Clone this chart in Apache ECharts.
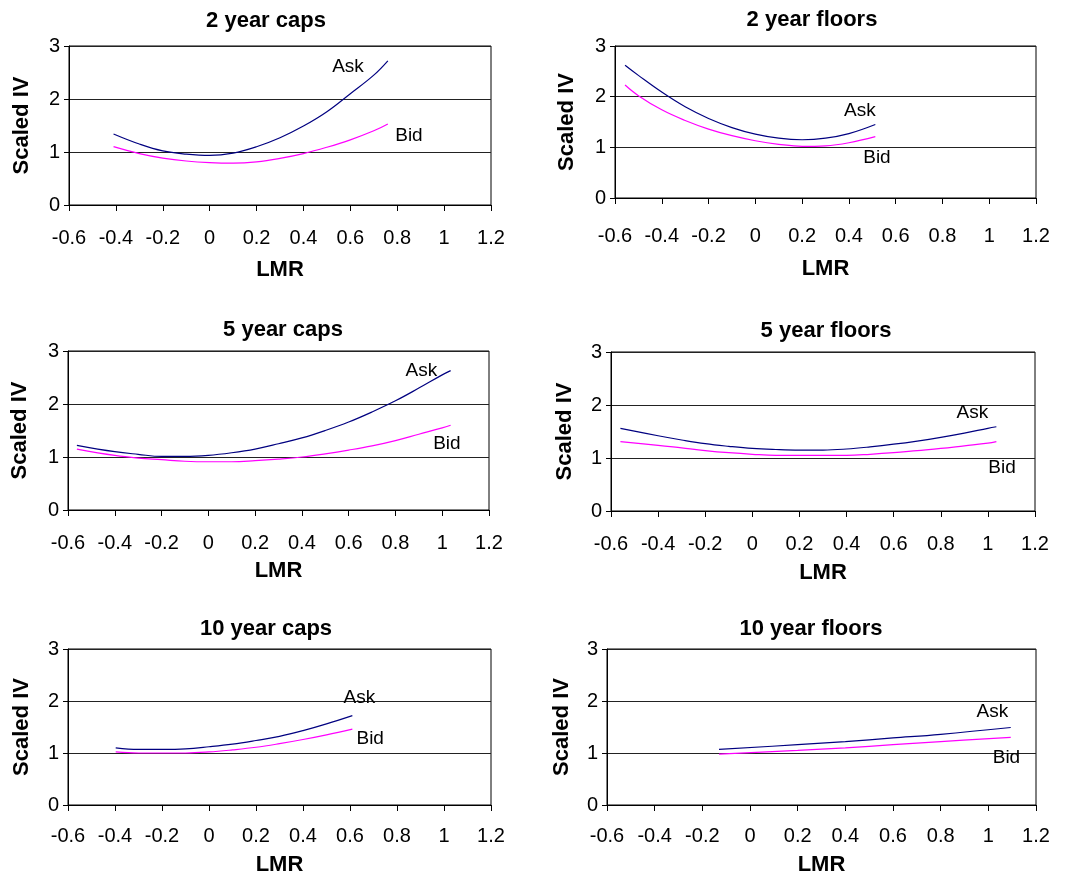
<!DOCTYPE html>
<html>
<head>
<meta charset="utf-8">
<script src="https://cdn.jsdelivr.net/npm/echarts@6/dist/echarts.min.js"></script>
<style>
html,body{margin:0;padding:0;background:#fff;}
#main{width:1067px;height:877px;}
</style>
</head>
<body>
<div id="main"></div>
<script>
// tick labels
var xTicks = [-0.6, -0.4, -0.2, 0, 0.2, 0.4, 0.6, 0.8, 1, 1.2];
var yTicks = [0, 1, 2, 3];

// 2 year caps
var lmrCap2 = [-0.41, -0.3, -0.2, -0.1, 0, 0.1, 0.2, 0.3, 0.4, 0.5, 0.6, 0.7, 0.76];
var askCap2 = [1.34, 1.15, 1.02, 0.96, 0.935, 0.98, 1.10, 1.27, 1.49, 1.76, 2.10, 2.45, 2.72];
var bidCap2 = [1.10, 0.97, 0.885, 0.83, 0.80, 0.79, 0.815, 0.88, 0.97, 1.09, 1.23, 1.40, 1.53];

// 2 year floors
var lmrFloor2 = [-0.557, -0.5, -0.4, -0.3, -0.2, -0.1, 0, 0.1, 0.2, 0.3, 0.4, 0.513];
var askFloor2 = [2.62, 2.42, 2.09, 1.80, 1.57, 1.39, 1.26, 1.18, 1.15, 1.18, 1.27, 1.45];
var bidFloor2 = [2.23, 2.02, 1.74, 1.53, 1.36, 1.23, 1.13, 1.06, 1.02, 1.03, 1.09, 1.21];

// 5 year caps
var lmrCap5 = [-0.562, -0.4, -0.3, -0.2, -0.1, 0, 0.1, 0.2, 0.3, 0.4, 0.5, 0.6, 0.7, 0.8, 0.9, 1.0, 1.036];
var askCap5 = [1.22, 1.10, 1.05, 1.01, 1.01, 1.03, 1.08, 1.15, 1.25, 1.36, 1.50, 1.66, 1.85, 2.06, 2.30, 2.55, 2.63];
var bidCap5 = [1.15, 1.03, 0.98, 0.95, 0.92, 0.91, 0.91, 0.93, 0.96, 1.00, 1.06, 1.13, 1.21, 1.31, 1.43, 1.55, 1.60];

// 5 year floors
var lmrFloor5 = [-0.56, -0.4, -0.3, -0.2, -0.1, 0, 0.1, 0.2, 0.3, 0.4, 0.5, 0.6, 0.7, 0.8, 0.9, 1.0, 1.036];
var askFloor5 = [1.56, 1.42, 1.34, 1.27, 1.22, 1.18, 1.16, 1.15, 1.15, 1.17, 1.21, 1.26, 1.32, 1.39, 1.47, 1.56, 1.59];
var bidFloor5 = [1.31, 1.24, 1.19, 1.14, 1.10, 1.07, 1.05, 1.05, 1.05, 1.05, 1.07, 1.10, 1.14, 1.18, 1.23, 1.28, 1.31];

// 10 year caps
var lmrCap10 = [-0.397, -0.3, -0.2, -0.1, 0, 0.1, 0.2, 0.3, 0.4, 0.5, 0.61];
var askCap10 = [1.10, 1.07, 1.07, 1.08, 1.12, 1.17, 1.24, 1.32, 1.43, 1.56, 1.72];
var bidCap10 = [1.02, 1.00, 1.00, 1.00, 1.02, 1.06, 1.11, 1.18, 1.26, 1.35, 1.46];

// 10 year floors
var lmrFloor10 = [-0.13, 0.2, 0.4, 0.6, 0.8, 1.094];
var askFloor10 = [1.07, 1.16, 1.22, 1.29, 1.36, 1.49];
var bidFloor10 = [0.98, 1.05, 1.10, 1.16, 1.22, 1.30];

// where the Ask / Bid words sit, in data units
var askLabelAt = [[0.59, 2.61], [0.447, 1.73], [0.911, 2.62], [0.934, 1.85], [0.64, 2.07], [1.017, 1.80]];
var bidLabelAt = [[0.85, 1.31], [0.52, 0.80], [1.02, 1.25], [1.06, 0.82], [0.686, 1.27], [1.076, 0.90]];

var titles = ['2 year caps', '2 year floors', '5 year caps', '5 year floors', '10 year caps', '10 year floors'];
var panels = [
    [lmrCap2, askCap2, bidCap2],
    [lmrFloor2, askFloor2, bidFloor2],
    [lmrCap5, askCap5, bidCap5],
    [lmrFloor5, askFloor5, bidFloor5],
    [lmrCap10, askCap10, bidCap10],
    [lmrFloor10, askFloor10, bidFloor10]
];

window.onload = function () {
    var myChart = echarts.init(document.getElementById('main'));
    var FONT = '"Liberation Sans", Arial, sans-serif';

    var grids = [
        {left: 69, top: 46, width: 422, height: 159},
        {left: 615, top: 46, width: 421, height: 152},
        {left: 68, top: 351, width: 421, height: 159},
        {left: 611, top: 352, width: 424, height: 159},
        {left: 68, top: 649, width: 423, height: 160},
        {left: 607, top: 649, width: 429, height: 160}
    ];
    var titleX = [261, 807, 278, 821, 261, 806];
    var titleY = [5, 4, 314, 315, 613, 613];
    var xNameGap = [54, 60, 50, 51, 49, 49];
    var xLabelGap = [23, 28, 23, 23, 21, 21];
    var yNameGap = [36, 37, 37, 35, 35, 34];

    function pairs(xs, ys) {
        return xs.map(function (x, i) { return [x, ys[i]]; });
    }

    var option = {
        animation: false,
        backgroundColor: '#fff',
        textStyle: {fontFamily: FONT, color: '#000'},
        title: [],
        grid: [],
        xAxis: [],
        yAxis: [],
        series: []
    };

    for (var i = 0; i < 6; i++) {
        option.title.push({
            text: titles[i],
            left: titleX[i],
            top: titleY[i],
            textAlign: 'center',
            textStyle: {fontFamily: FONT, fontSize: 22, fontWeight: 'bold', color: '#000'}
        });
        option.grid.push({
            left: grids[i].left, top: grids[i].top,
            width: grids[i].width, height: grids[i].height,
            show: true, borderColor: '#000', borderWidth: 1, backgroundColor: '#fff'
        });
        option.xAxis.push({
            gridIndex: i,
            type: 'value',
            min: xTicks[0],
            max: xTicks[xTicks.length - 1],
            interval: 0.2,
            name: 'LMR',
            nameLocation: 'middle',
            nameGap: xNameGap[i],
            nameTextStyle: {fontFamily: FONT, fontSize: 22, fontWeight: 'bold', color: '#000'},
            axisLine: {show: true, onZero: false, lineStyle: {color: '#000', width: 1}},
            axisTick: {show: true, length: 6, lineStyle: {color: '#000'}},
            axisLabel: {
                fontFamily: FONT, fontSize: 20, color: '#000', margin: xLabelGap[i],
                formatter: function (v) { return String(+v.toFixed(1)); }
            },
            splitLine: {show: false}
        });
        option.yAxis.push({
            gridIndex: i,
            type: 'value',
            min: yTicks[0],
            max: yTicks[yTicks.length - 1],
            interval: 1,
            name: 'Scaled IV',
            nameLocation: 'middle',
            nameGap: yNameGap[i],
            nameTextStyle: {fontFamily: FONT, fontSize: 22, fontWeight: 'bold', color: '#000'},
            axisLine: {show: true, onZero: false, lineStyle: {color: '#000', width: 1}},
            axisTick: {show: true, length: 5, lineStyle: {color: '#000'}},
            axisLabel: {fontFamily: FONT, fontSize: 20, color: '#000', margin: 9},
            splitLine: {show: true, lineStyle: {color: '#222', width: 1}}
        });
        var p = panels[i];
        option.series.push({
            name: 'Ask',
            type: 'line',
            xAxisIndex: i,
            yAxisIndex: i,
            data: pairs(p[0], p[1]),
            smooth: 0.4,
            showSymbol: false,
            lineStyle: {color: '#000080', width: 1.2},
            itemStyle: {color: '#000080'},
            markPoint: {
                symbol: 'circle', symbolSize: 0,
                label: {show: true, formatter: 'Ask', fontFamily: FONT, fontSize: 19, color: '#000', position: 'inside'},
                data: [{coord: askLabelAt[i]}]
            },
            z: 3
        });
        option.series.push({
            name: 'Bid',
            type: 'line',
            xAxisIndex: i,
            yAxisIndex: i,
            data: pairs(p[0], p[2]),
            smooth: 0.4,
            showSymbol: false,
            lineStyle: {color: '#ff00ff', width: 1.2},
            itemStyle: {color: '#ff00ff'},
            markPoint: {
                symbol: 'circle', symbolSize: 0,
                label: {show: true, formatter: 'Bid', fontFamily: FONT, fontSize: 19, color: '#000', position: 'inside'},
                data: [{coord: bidLabelAt[i]}]
            },
            z: 2
        });
    }

    myChart.setOption(option);
};
</script>
</body>
</html>
